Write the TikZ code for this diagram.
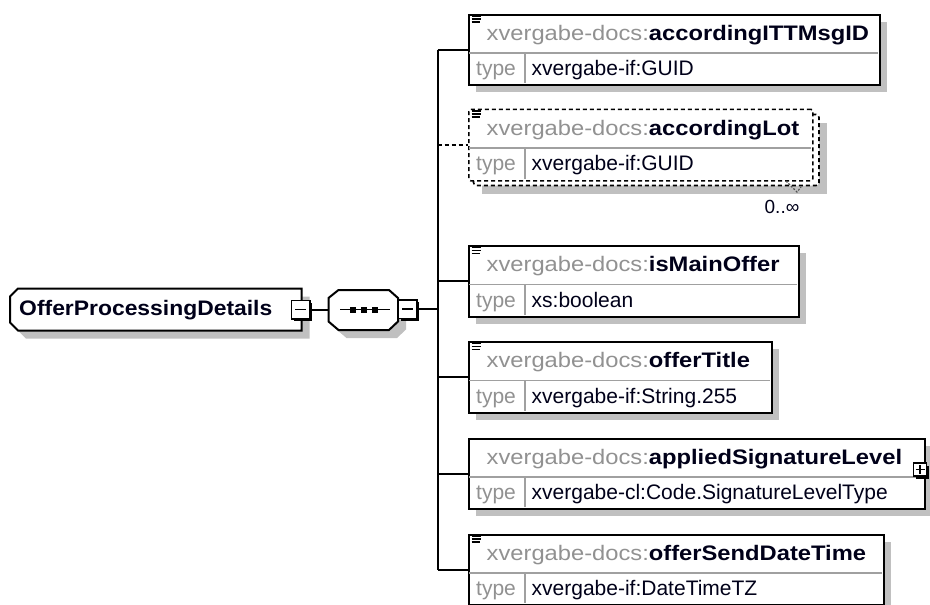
\documentclass[tikz,border=0pt]{standalone}
\usepackage{fontspec}
\usepackage{graphicx}
\setmainfont{Liberation Sans}
\usetikzlibrary{shadows}
\definecolor{shd}{RGB}{192,192,192}
\definecolor{pre}{RGB}{145,145,145}
\definecolor{sepc}{RGB}{160,160,160}
\definecolor{txt}{RGB}{0,0,25}
\newcommand\hdrtext[1]{\scalebox{1.13}[1]{\textcolor{pre}{xvergabe-docs:}\textcolor{txt}{\bfseries #1}}}
\newcommand\xicon[1]{\draw[icon] (471.5,#1+2.5) -- (481,#1+2.5) (471.5,#1+5.5) -- (481,#1+5.5) (471.5,#1+8.5) -- (479.5,#1+8.5);}
\newcommand\xelem[6]{%
  \pgfmathsetmacro\bt{#2}%
  \pgfmathsetmacro\bw{#3-468}%
  \fill[shd] (476,\bt+8) rectangle (#3+8,\bt+78.5);
  \node[frame, minimum width=\bw pt, minimum height=70.5pt, anchor=north west] (#1) at (468,\bt) {};
  \draw[sep] (469,\bt+39.5) -- (#3-1,\bt+39.5);
  \draw[sep] (525,\bt+39.5) -- (525,\bt+69.5);
  \node[txtnode] (#1h) at (486.5,\bt+26.5) {\hdrtext{#5}};
  \node[txtnode, text=pre] (#1t) at (476,\bt+62) {type};
  \node[txtnode, text=txt] (#1v) at (531.5,\bt+62) {#6};
  \ifnum#4=1 \xicon{\bt}\fi
}
\begin{document}
\begin{tikzpicture}[x=1pt,y=-1pt, font=\fontsize{21}{25}\selectfont,
  frame/.style={draw=black, line width=2pt, fill=white, inner sep=0pt},
  sep/.style={draw=sepc, line width=1.2pt},
  conn/.style={draw=black, line width=2pt},
  dconn/.style={conn, line width=1.6pt, dash pattern=on 4pt off 3pt},
  txtnode/.style={inner sep=0pt, anchor=base west},
  exbox/.style={draw=black, fill=white, line width=1.5pt, minimum size=18.5pt, inner sep=0pt,
    drop shadow={shadow xshift=2.5pt, shadow yshift=-2.5pt, fill=black, opacity=1}},
  icon/.style={draw=black, line width=1.3pt}
]
\useasboundingbox (0,0) rectangle (930,605);

% ---------- main element ----------
\fill[shd, shift={(8,8)}] (18,288.5) -- (301.5,288.5) -- (301.5,330.5) -- (18,330.5) -- (10,322.5) -- (10,296.5) -- cycle;
\draw[line width=2pt, fill=white] (18,288.5) -- (301.5,288.5) -- (301.5,330.5) -- (18,330.5) -- (10,322.5) -- (10,296.5) -- cycle;
\node[txtnode, text=txt] (mainlbl) at (19,315.5) {\scalebox{1.09}[1]{\bfseries OfferProcessingDetails}};
\node[exbox] (mainm) at (300.5,309.5) {};
\draw[line width=1.4pt] ([xshift=-5.5pt]mainm.center) -- ([xshift=5.5pt]mainm.center);

% ---------- sequence ----------
\fill[shd, shift={(8,8)}] (338.5,290) -- (389,290) -- (398,298) -- (398,321.5) -- (389,330) -- (338.5,330) -- (328.5,321.5) -- (328.5,298) -- cycle;
\draw[line width=2pt, fill=white] (338.5,290) -- (389,290) -- (398,298) -- (398,321.5) -- (389,330) -- (338.5,330) -- (328.5,321.5) -- (328.5,298) -- cycle;
\node[inner sep=0pt, minimum width=69.5pt, minimum height=40pt] (seq) at (363.25,310) {};
\draw[line width=1.6pt] (340,309.5) -- (390,309.5);
\fill (350,306.5) rectangle (356,312.5);
\fill (361,306.5) rectangle (367,312.5);
\fill (372,306.5) rectangle (378,312.5);
\node[exbox] (seqm) at (407.5,309) {};
\draw[line width=1.4pt] ([xshift=-5.5pt]seqm.center) -- ([xshift=5.5pt]seqm.center);

\draw[conn] (mainm.east) -- (mainm.east -| seq.west);

% ---------- children ----------
\xelem{b1}{13.5}{879}{1}{accordingITTMsgID}{xvergabe-if:GUID}

% dashed repeated element
\fill[shd] (481.5,122.5) rectangle (827,193.5);
\draw[black, line width=1.6pt, dash pattern=on 4pt off 3pt, fill=white, rounded corners=3pt] (473.5,114.5) rectangle (819,185.5);
\node[frame, line width=1.6pt, dash pattern=on 4pt off 3pt, rounded corners=2pt, minimum width=344pt, minimum height=71.5pt, anchor=north west] (b2) at (468,108.5) {};
\draw[sep] (469,148) -- (811,148);
\draw[sep] (525,148) -- (525,179);
\node[txtnode] (b2h) at (486.5,135) {\hdrtext{accordingLot}};
\node[txtnode, text=pre] (b2t) at (476,170.5) {type};
\node[txtnode, text=txt] (b2v) at (531.5,170.5) {xvergabe-if:GUID};
\xicon{108.5}
\draw[sepc!50!black, line width=1.1pt, dash pattern=on 2pt off 1.5pt] (786,181) -- (797,192) -- (801,187);
\node[inner sep=0pt, anchor=base, font=\fontsize{19}{22}\selectfont, text=txt] (mult) at (782,213) {0..∞};

\xelem{b3}{245}{798}{1}{isMainOffer}{xs:boolean}
\xelem{b4}{341}{771}{1}{offerTitle}{xvergabe-if:String.255}
\xelem{b5}{437.5}{923.5}{0}{appliedSignatureLevel}{xvergabe-cl:Code.SignatureLevelType}
\node[exbox, minimum size=13pt] (plus5) at (920,469.5) {};
\draw[line width=1.3pt] ([xshift=-4.5pt]plus5.center) -- ([xshift=4.5pt]plus5.center)
                       ([yshift=-4.5pt]plus5.center) -- ([yshift=4.5pt]plus5.center);
\xelem{b6}{533.5}{883}{1}{offerSendDateTime}{xvergabe-if:DateTimeTZ}

% ---------- connectors ----------
\coordinate (tx) at (437.5,0);
\draw[conn] (b1.west -| tx) -- (b6.west -| tx);
\draw[conn] (seqm.east) -- (seqm.east -| tx);
\draw[conn] (b1.west -| tx) -- (b1.west);
\draw[dconn] (b2.west -| tx) -- (b2.west);
\draw[conn] (b3.west -| tx) -- (b3.west);
\draw[conn] (b4.west -| tx) -- (b4.west);
\draw[conn] (b5.west -| tx) -- (b5.west);
\draw[conn] (b6.west -| tx) -- (b6.west);
\end{tikzpicture}
\end{document}
